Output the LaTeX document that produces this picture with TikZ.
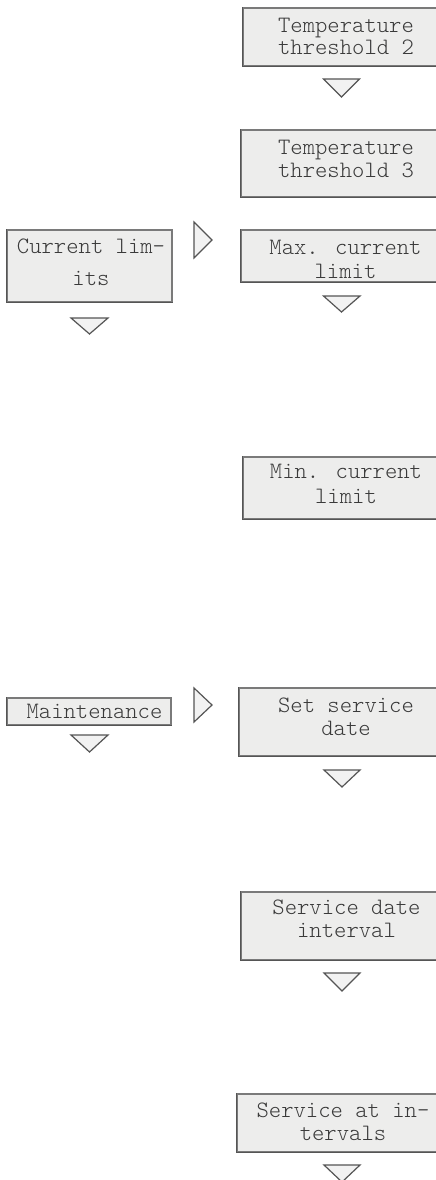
\documentclass[tikz,border=0pt]{standalone}
\usepackage{fontspec}
\newfontfamily\boxfont{Latin Modern Mono Light}
\definecolor{boxfill}{HTML}{EDEDEC}
\definecolor{boxline}{HTML}{7A7A7A}
\definecolor{boxdark}{HTML}{555555}
\definecolor{txtcol}{HTML}{3A3A3A}
\definecolor{trifill}{HTML}{F2F2F2}
\tikzset{
  box/.style={draw=boxline, fill=boxfill, line width=1.1pt, rectangle, inner sep=0pt},
  boxtxt/.style={anchor=base, align=center, inner sep=0pt, text=txtcol,
    font=\boxfont\fontsize{23.5}{22.5}\selectfont},
  shade/.style={draw=boxdark, line width=1.8pt},
  tri/.style={draw=boxdark, fill=trifill, line width=1.2pt, line join=miter}
}
\begin{document}
\begin{tikzpicture}[x=1pt,y=-1pt]
\clip (0,0) rectangle (436,1180);
\fill[white] (0,0) rectangle (436,1180);

% boxes
\node[box, minimum width=206, minimum height=58] (t2) at (346,37) {};
\node[box, minimum width=210, minimum height=67] (t3) at (346,163.5) {};
\node[box, minimum width=165, minimum height=72] (cur) at (89.5,266) {};
\node[box, minimum width=210, minimum height=52] (max) at (346,256) {};
\node[box, minimum width=206, minimum height=62] (min) at (346,488) {};
\node[box, minimum width=164, minimum height=27] (mnt) at (89,711.5) {};
\node[box, minimum width=214, minimum height=68] (set) at (346,722) {};
\node[box, minimum width=210, minimum height=68] (sdi) at (346,926) {};
\node[box, minimum width=212, minimum height=58] (sai) at (343,1123) {};

% darker left and bottom edges
\foreach \b in {t2,t3,cur,max,min,mnt,set,sdi,sai}
  \draw[shade] (\b.north west) -- (\b.south west) -- (\b.south east);

% texts (base anchor = baseline of the last line)
\node[boxtxt] (t2t) at (346,55) {Temperature\\threshold 2};
\node[boxtxt] (t3t) at (346,177) {Temperature\\threshold 3};
\node[boxtxt, font=\boxfont\fontsize{23.5}{32}\selectfont] (curt) at (91,285) {Current lim-\\its};
\node[boxtxt, font=\boxfont\fontsize{23.5}{24}\selectfont] (maxt) at (345.5,278) {Max. current\\limit};
\node[boxtxt, font=\boxfont\fontsize{23.5}{25}\selectfont] (mint) at (346,503) {Min. current\\limit};
\node[boxtxt] (mntt) at (94.5,718) {Maintenance};
\node[boxtxt] (sett) at (346,735) {Set service\\date};
\node[boxtxt] (sdit) at (346.5,937) {Service date\\interval};
\node[boxtxt] (sait) at (343,1140) {Service at in-\\tervals};

% down triangles
\draw[tri] (323.5,79) -- (359.5,79) -- (341.5,97) -- cycle;
\draw[tri] (71,318) -- (108,318) -- (89.5,334) -- cycle;
\draw[tri] (323.5,296) -- (360,296) -- (341.5,312) -- cycle;
\draw[tri] (71,735) -- (108,735) -- (89.5,752) -- cycle;
\draw[tri] (324,770) -- (360,770) -- (342,787) -- cycle;
\draw[tri] (324,973) -- (360,973) -- (342,991) -- cycle;
\draw[tri] (324,1165) -- (360,1165) -- (342,1182) -- cycle;

% right triangles
\draw[tri] (194,222) -- (212,240) -- (194,258) -- cycle;
\draw[tri] (194,688) -- (212,705) -- (194,722) -- cycle;
\end{tikzpicture}
\end{document}
